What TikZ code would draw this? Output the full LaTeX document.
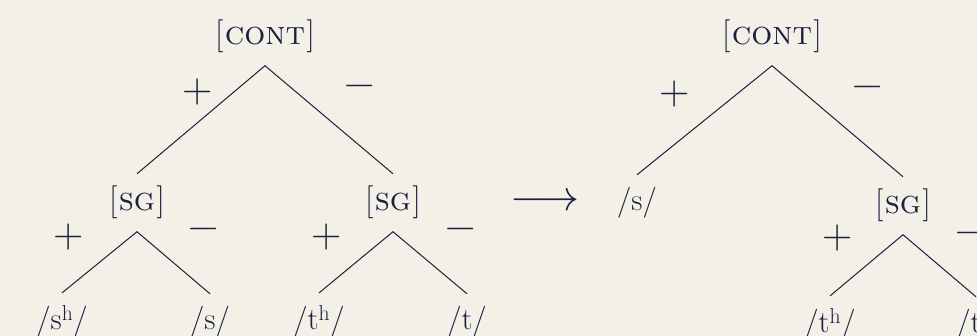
\documentclass[tikz,border=0pt]{standalone}
\usepackage{graphicx}
\definecolor{bgc}{RGB}{243,240,232}
\definecolor{ink}{RGB}{28,32,62}
\newcommand{\feat}[1]{[\kern1.5pt\textsc{#1}\kern1.5pt]}
\tikzset{
  feature/.style={text=ink, font=\fontsize{33}{40}\selectfont, inner xsep=2pt, inner ysep=12.5pt, outer sep=0pt, anchor=base},
  leaf/.style={text=ink, font=\fontsize{31}{37}\selectfont, inner xsep=2pt, inner ysep=13pt, outer sep=0pt, anchor=base},
  sgn/.style={text=ink, font=\fontsize{42}{50}\selectfont, inner sep=0pt, anchor=center},
  edge/.style={draw=ink, line width=1pt}
}
\begin{document}
\begin{tikzpicture}[x=1pt,y=-1pt]
\fill[bgc] (0,0) rectangle (977,336);
\clip (0,0) rectangle (977,336);
\useasboundingbox (0,0) rectangle (977,336);
% left tree
\node[feature] (contL) at (265,45) {\feat{cont}};
\node[feature] (sgA) at (137,211) {\feat{sg}};
\node[feature] (sgB) at (393,211) {\feat{sg}};
\node[leaf] (shL) at (62,330) {/s\textsuperscript{h}/};
\node[leaf] (sL) at (210,330) {/s/};
\node[leaf] (thL) at (319,330) {/t\textsuperscript{h}/};
\node[leaf] (tL) at (467,330) {/t/};
\draw[edge] (sgA.north) -- (contL.south) -- (sgB.north);
\draw[edge] (shL.north) -- (sgA.south) -- (sL.north);
\draw[edge] (thL.north) -- (sgB.south) -- (tL.north);
\node[sgn] (p1) at (198,92) {+};
\node[sgn] (m1) at (360,91) {−};
\node[sgn] (p2) at (69,237) {+};
\node[sgn] (m2) at (204,234) {−};
\node[sgn] (p3) at (327,237) {+};
\node[sgn] (m3) at (461,234) {−};
% arrow
\node[text=ink, inner sep=0pt, anchor=base] (arr) at (545,211) {\scalebox{4.3}{$\longrightarrow$}};
% right tree
\node[feature] (contR) at (772,45) {\feat{cont}};
\node[leaf] (sR) at (637,211) {/s/};
\node[feature] (sgC) at (903,214) {\feat{sg}};
\node[leaf] (thR) at (830,333) {/t\textsuperscript{h}/};
\node[leaf] (tR) at (976,333) {/t/};
\draw[edge] (sR.north) -- (contR.south) -- (sgC.north);
\draw[edge] (thR.north) -- (sgC.south) -- (tR.north);
\node[sgn] (p4) at (675,94) {+};
\node[sgn] (m4) at (868,92) {−};
\node[sgn] (p5) at (838,238) {+};
\node[sgn] (m5) at (971,238) {−};
\end{tikzpicture}
\end{document}
